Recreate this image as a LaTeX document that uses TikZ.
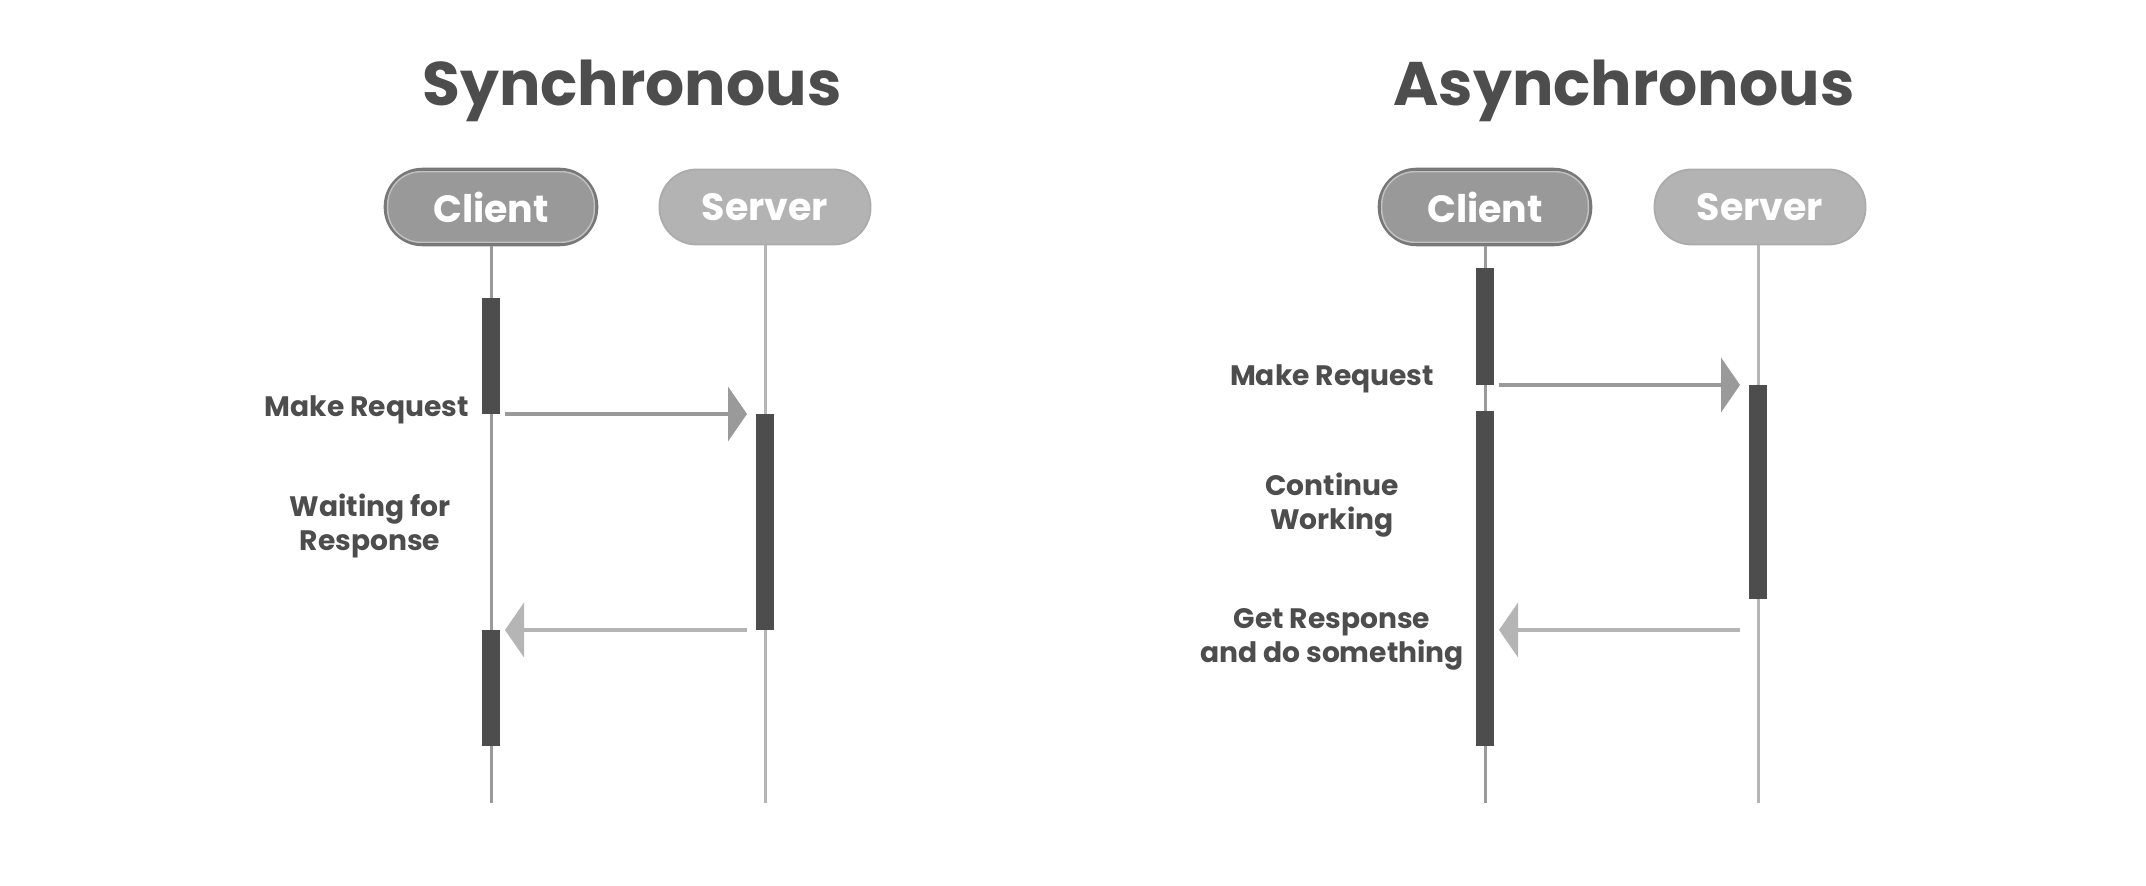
\documentclass[tikz,border=0pt]{standalone}
\usepackage{fontspec}
\setmainfont{Poppins}
\usepackage{tikz}
\usetikzlibrary{positioning, arrows.meta}
\definecolor{ink}{HTML}{4D4D4D}
\definecolor{clientfill}{HTML}{999999}
\definecolor{clientedge}{HTML}{787878}
\definecolor{clientinner}{HTML}{C2C2C2}
\definecolor{serverfill}{HTML}{B3B3B3}
\definecolor{serveredge}{HTML}{ABABAB}
\definecolor{clientline}{HTML}{9A9A9A}
\definecolor{serverline}{HTML}{B5B5B5}

\begin{document}
\begin{tikzpicture}[x=0.01cm, y=-0.01cm,
  title/.style={ink, anchor=base, font=\bfseries\fontsize{17.5}{20}\selectfont},
  pill/.style={rounded corners=0.37cm, minimum width=2.11cm, minimum height=0.75cm,
    text=white, font=\bfseries\fontsize{10.8}{12}\selectfont},
  clientpill/.style={pill, fill=clientfill, draw=clientedge, line width=1pt},
  serverpill/.style={pill, fill=serverfill, draw=serveredge, line width=0.5pt},
  innerline/.style={clientinner, line width=0.4pt, rounded corners=0.33cm},
  clife/.style={clientline, line width=0.85pt},
  slife/.style={serverline, line width=0.85pt},
  actbar/.style={fill=ink},
  req/.style={clientline, line width=1.4pt, -{Triangle[length=0.19cm, width=0.54cm]}},
  resp/.style={serverline, line width=1.4pt, -{Triangle[length=0.19cm, width=0.54cm]}},
  note/.style={ink, align=center, anchor=base, font=\bfseries\fontsize{8}{9.7}\selectfont}
]
\fill[white] (0,0) rectangle (2146,886);
\useasboundingbox (0,0) rectangle (2146,886);

% ---- synchronous ----
\node[title] (tsync) at (632,106) {Synchronous};
\node[clientpill] (cs) at (491,207) {Client};
\node[serverpill] (ss) at (765,207) {Server};
\draw[innerline] ([shift={(4,4)}]cs.north west) rectangle ([shift={(-4,-4)}]cs.south east);
\coordinate (csend) at (491,803);
\coordinate (ssend) at (765,803);
\draw[clife] (cs.south) -- (csend);
\draw[slife] (ss.south) -- (ssend);
% activations
\fill[actbar] (482,298) rectangle (500,414);
\fill[actbar] (756,414) rectangle (774,630);
\fill[actbar] (482,630) rectangle (500,746);
% messages
\coordinate (sreqa) at (505,414);
\coordinate (sreqb) at (747,414);
\coordinate (sresa) at (747,630);
\coordinate (sresb) at (505,630);
\draw[req] (sreqa) -- (sreqb);
\draw[resp] (sresa) -- (sresb);
\node[note, anchor=base east] (smake) at (481,417) {Make Request};
\node[note] (swait) at (370,551) {Waiting for\\Response};

% ---- asynchronous ----
\node[title] (tasync) at (1624,106) {Asynchronous};
\node[clientpill] (ca) at (1485,207) {Client};
\node[serverpill] (sa) at (1760,207) {Server};
\draw[innerline] ([shift={(4,4)}]ca.north west) rectangle ([shift={(-4,-4)}]ca.south east);
\coordinate (caend) at (1485,803);
\coordinate (saend) at (1758,803);
\draw[clife] (ca.south) -- (caend);
\draw[slife] (sa.south -| saend) -- (saend);
% activations
\fill[actbar] (1476,268) rectangle (1494,385);
\fill[actbar] (1749,385) rectangle (1767,599);
\fill[actbar] (1476,411) rectangle (1494,746);
% messages
\coordinate (areqa) at (1499,385);
\coordinate (areqb) at (1740,385);
\coordinate (aresa) at (1740,630);
\coordinate (aresb) at (1499,630);
\draw[req] (areqa) -- (areqb);
\draw[resp] (aresa) -- (aresb);
\node[note] (amake) at (1332,386) {Make Request};
\node[note] (awork) at (1332,530) {Continue\\Working};
\node[note] (aget) at (1332,663) {Get Response\\and do something};
\end{tikzpicture}
\end{document}
